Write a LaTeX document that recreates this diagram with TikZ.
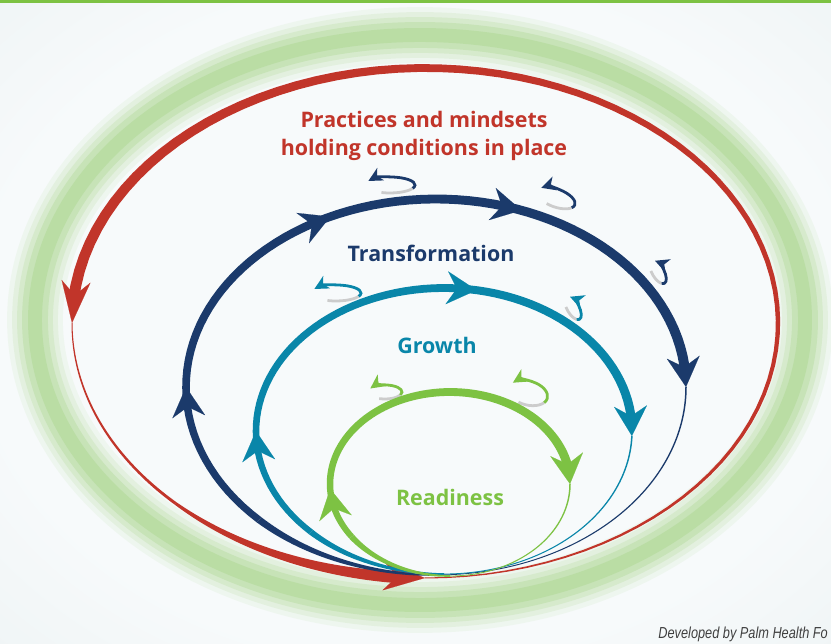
\documentclass[tikz,border=0pt]{standalone}
\usepackage{fontspec}
\usetikzlibrary{arrows.meta}

\newfontfamily\labelfont{Open Sans}
\newfontfamily\creditfont{Liberation Sans}

\definecolor{redloop}{HTML}{C1352A}
\definecolor{navyloop}{HTML}{1B3A6B}
\definecolor{tealloop}{HTML}{0986A9}
\definecolor{greenloop}{HTML}{7DC243}
\definecolor{ringgreen}{HTML}{8CC863}
\definecolor{bgcenter}{HTML}{F7FAFB}
\definecolor{bgmid}{HTML}{EDF3F4}
\definecolor{bgedge}{HTML}{E0EEDA}

\pgfdeclareradialshading{bgglow}{\pgfpoint{0bp}{0bp}}{color(0bp)=(bgcenter); color(26bp)=(bgcenter); color(40bp)=(bgmid); color(50bp)=(bgedge); color(72bp)=(bgedge)}

\tikzset{
  headarrow/.style={line width=0.1pt, -{Stealth[length=30pt, width=33pt, inset=10pt]}},
  redhead/.style={line width=0.1pt, -{Stealth[length=42pt, width=29pt, inset=14pt]}},
  curlarrow/.style={line width=2.8pt, -{Stealth[length=14pt, width=14pt, inset=4pt]}},
  curltail/.style={line width=2.8pt, gray!40},
  looplabel/.style={font=\labelfont\bfseries\fontsize{21.5}{28}\selectfont, align=center},
  curl/.pic={
    \draw[curltail] (-110:1 and 1) arc[start angle=-110, end angle=-25, x radius=1, y radius=1];
    \draw[curlarrow] (-25:1 and 1) arc[start angle=-25, end angle=150, x radius=1, y radius=1];
  }
}

% band of an ellipse: colour, cx, cy, rx, ry, start angle, end angle, start width, end width
\newcommand{\loopband}[9]{%
  \fill[#1] plot[domain=#6:#7, samples=80, variable=\t]
    ({#2+(#4+0.5*((#8)+((#9)-(#8))*(\t-(#6))/((#7)-(#6))))*cos(\t)},
     {#3+(#5+0.5*((#8)+((#9)-(#8))*(\t-(#6))/((#7)-(#6))))*sin(\t)})
    -- plot[domain=#7:#6, samples=80, variable=\t]
    ({#2+(#4-0.5*((#8)+((#9)-(#8))*(\t-(#6))/((#7)-(#6))))*cos(\t)},
     {#3+(#5-0.5*((#8)+((#9)-(#8))*(\t-(#6))/((#7)-(#6))))*sin(\t)}) -- cycle;}

% arrow head on an ellipse: style, colour, cx, cy, rx, ry, from angle, tip angle
\newcommand{\loophead}[8]{%
  \draw[#1, #2] plot[domain=#7:#8, samples=2, variable=\t] ({#3+#5*cos(\t)}, {#4+#6*sin(\t)});}

\begin{document}
\begin{tikzpicture}[x=1bp, y=1bp]
        \clip (0,0) rectangle (831,644);

        % Background
        \shade[shading=bgglow] (0,0) rectangle (831,644);
        \fill[greenloop] (0,641) rectangle (831,644);

        % Soft green ring
        \foreach \w/\o in {56/0.08, 46/0.11, 36/0.15, 26/0.2, 14/0.22}
            \draw[ringgreen, line width=\w, opacity=\o] (420,324) ellipse [x radius=385, y radius=285];

        % Small curls
        \pic[navyloop, xscale=25, yscale=8] at (390,459) {curl};
        \pic[navyloop, rotate=-20, xscale=20, yscale=9] at (556,446) {curl};
        \pic[navyloop, rotate=-60, xscale=13, yscale=6] at (658,372) {curl};
        \pic[tealloop, xscale=25, yscale=8] at (336,351) {curl};
        \pic[tealloop, rotate=-60, xscale=13, yscale=6] at (573,336) {curl};
        \pic[greenloop, xscale=17, yscale=7] at (385,252) {curl};
        \pic[greenloop, rotate=-15, xscale=20, yscale=12] at (528,251) {curl};

        % Red loop
        \loopband{redloop}{425}{321}{353}{255}{180}{225}{1}{3}
        \loopband{redloop}{425}{321}{353}{255}{225}{266}{3}{12}
        \loopband{redloop}{425}{321}{353}{255}{270}{535}{1}{11}
        \loophead{redhead}{redloop}{425}{321}{353}{255}{262}{270}
        \loophead{redhead}{redloop}{425}{321}{353}{255}{532}{540}

        % Transformation loop
        \loopband{navyloop}{436}{257}{250}{188}{270}{225}{1.5}{7}
        \loopband{navyloop}{436}{257}{250}{188}{225}{4}{7}{10}
        \loopband{navyloop}{436}{257}{250}{188}{0}{-90}{1.5}{0.8}
        \loophead{headarrow}{navyloop}{436}{257}{250}{188}{188}{180}
        \loophead{headarrow}{navyloop}{436}{257}{250}{188}{123}{115}
        \loophead{headarrow}{navyloop}{436}{257}{250}{188}{78}{70}
        \loophead{headarrow}{navyloop}{436}{257}{250}{188}{8}{0}

        % Growth loop
        \loopband{tealloop}{444}{213}{188}{143}{270}{225}{1.5}{6}
        \loopband{tealloop}{444}{213}{188}{143}{225}{4}{6}{9}
        \loopband{tealloop}{444}{213}{188}{143}{-2}{-90}{1.5}{0.8}
        \loophead{headarrow}{tealloop}{444}{213}{188}{143}{188}{180}
        \loophead{headarrow}{tealloop}{444}{213}{188}{143}{88}{80}
        \loophead{headarrow}{tealloop}{444}{213}{188}{143}{6}{-2}

        % Readiness loop
        \loopband{greenloop}{450}{160}{120}{92}{270}{215}{1.5}{6}
        \loopband{greenloop}{450}{160}{120}{92}{215}{9}{6}{9}
        \loopband{greenloop}{450}{160}{120}{92}{0}{-90}{1.5}{0.8}
        \loophead{headarrow}{greenloop}{450}{160}{120}{92}{193}{183}
        \loophead{headarrow}{greenloop}{450}{160}{120}{92}{10}{0}

        % Labels
        \node[looplabel, text=redloop] (practices) at (424,508) {Practices and mindsets\\holding conditions in place};
        \node[looplabel, text=navyloop] (transformation) at (431,391) {Transformation};
        \node[looplabel, text=tealloop] (growth) at (437,299) {Growth};
        \node[looplabel, text=greenloop] (readiness) at (450,147) {Readiness};
        \node[anchor=east, inner sep=0pt, xscale=0.8, text=black!75, font=\creditfont\itshape\fontsize{16}{18}\selectfont] (credit) at (828,10) {Developed by Palm Health Fo};

\end{tikzpicture}
\end{document}
